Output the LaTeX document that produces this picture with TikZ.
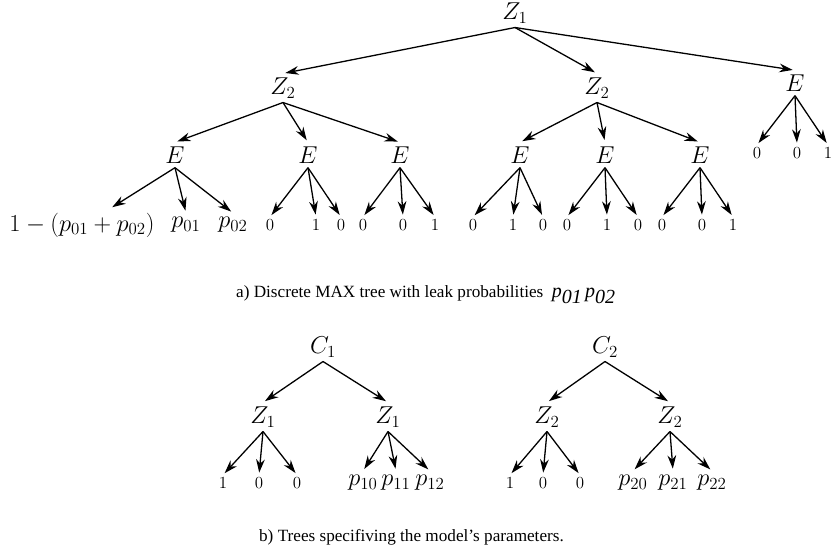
\documentclass[tikz,border=0pt]{standalone}
\usepackage{amsmath,amssymb}
\usepackage{fontspec}
\setmainfont{Liberation Serif}
\usepackage{tikz}
\usetikzlibrary{arrows.meta,positioning}

\tikzset{
  lbl/.style={font=\fontsize{20.74}{25}\selectfont,inner sep=3.5pt},
  bit/.style={font=\fontsize{14.4}{17}\selectfont,inner sep=2pt},
  captext/.style={font=\fontsize{14.6}{18}\selectfont,anchor=west},
  arr/.style={-{Stealth[length=4mm,width=2.6mm]},line width=1.1pt,shorten >=2pt}
}

\begin{document}
\begin{tikzpicture}[x=0.85pt,y=-0.85pt]
\useasboundingbox (0,0) rectangle (832,548);
% a) MAX tree
\node[lbl] (z1) at (515,13) {$Z_1$};
\node[lbl] (z2a) at (283,88) {$Z_2$};
\node[lbl] (z2b) at (597,88) {$Z_2$};
\node[lbl] (er) at (795,83) {$E$};
\draw[arr] (z1.south) -- (z2a.north);
\draw[arr] (z1.south) -- (z2b.north);
\draw[arr] (z1.south) -- (er.north);
\node[lbl] (ea) at (175,155) {$E$};
\node[lbl] (eb) at (308,155) {$E$};
\node[lbl] (ec) at (400,155) {$E$};
\node[lbl] (ed) at (520,155) {$E$};
\node[lbl] (ee) at (605,155) {$E$};
\node[lbl] (ef) at (700,155) {$E$};
\foreach \c in {ea,eb,ec} \draw[arr] (z2a.south) -- (\c.north);
\foreach \c in {ed,ee,ef} \draw[arr] (z2b.south) -- (\c.north);
\node[lbl] (ea-1) at (82,225) {$1-(p_{01}+p_{02})$};
\node[lbl] (ea-2) at (186,225) {$p_{01}$};
\node[lbl] (ea-3) at (233,225) {$p_{02}$};
\draw[arr] (ea.south) -- ([xshift=24pt]ea-1.north);
\draw[arr] (ea.south) -- (ea-2.north);
\draw[arr] (ea.south) -- (ea-3.north);
\foreach \up/\y/\xa/\xb/\xc/\da/\db/\dc in {eb/225/270/316/341/0/1/0,ec/225/363/403/435/0/0/1,
    ed/225/473/513/543/0/1/0,ee/225/567/607/638/0/1/0,ef/225/662/702/733/0/0/1,er/153/757/797/828/0/0/1}{
  \node[bit] (\up-1) at (\xa,\y) {$\da$};
  \node[bit] (\up-2) at (\xb,\y) {$\db$};
  \node[bit] (\up-3) at (\xc,\y) {$\dc$};
  \foreach \i in {1,2,3} \draw[arr] (\up.south) -- (\up-\i.north);
}
\node[captext] (capa) at (232,295) {a) Discrete MAX tree with leak probabilities\ \ {\itshape\fontsize{17}{20}\selectfont p\raisebox{-5pt}{01}\,p\raisebox{-5pt}{02}}};
% b) parameter trees
\node[lbl] (c1) at (323,347) {$C_1$};
\node[lbl] (c2) at (605,347) {$C_2$};
\node[lbl] (z1a) at (263,417) {$Z_1$};
\node[lbl] (z1b) at (388,417) {$Z_1$};
\node[lbl] (z2c) at (547,417) {$Z_2$};
\node[lbl] (z2d) at (670,417) {$Z_2$};
\draw[arr] (c1.south) -- (z1a.north);
\draw[arr] (c1.south) -- (z1b.north);
\draw[arr] (c2.south) -- (z2c.north);
\draw[arr] (c2.south) -- (z2d.north);
\foreach \up/\xa/\xb/\xc in {z1a/223/259/297,z2c/510/543/580}{
  \node[bit] (\up-1) at (\xa,483) {$1$};
  \node[bit] (\up-2) at (\xb,483) {$0$};
  \node[bit] (\up-3) at (\xc,483) {$0$};
  \foreach \i in {1,2,3} \draw[arr] (\up.south) -- (\up-\i.north);
}
\foreach \up/\k/\xa/\xb/\xc in {z1b/1/363/396/430,z2d/2/633/673/712}{
  \node[lbl] (\up-1) at (\xa,483) {$p_{\k0}$};
  \node[lbl] (\up-2) at (\xb,483) {$p_{\k1}$};
  \node[lbl] (\up-3) at (\xc,483) {$p_{\k2}$};
  \foreach \i in {1,2,3} \draw[arr] (\up.south) -- (\up-\i.north);
}
\node[captext] (capb) at (255,537) {b) Trees specifiving the model's parameters.};
\end{tikzpicture}
\end{document}
